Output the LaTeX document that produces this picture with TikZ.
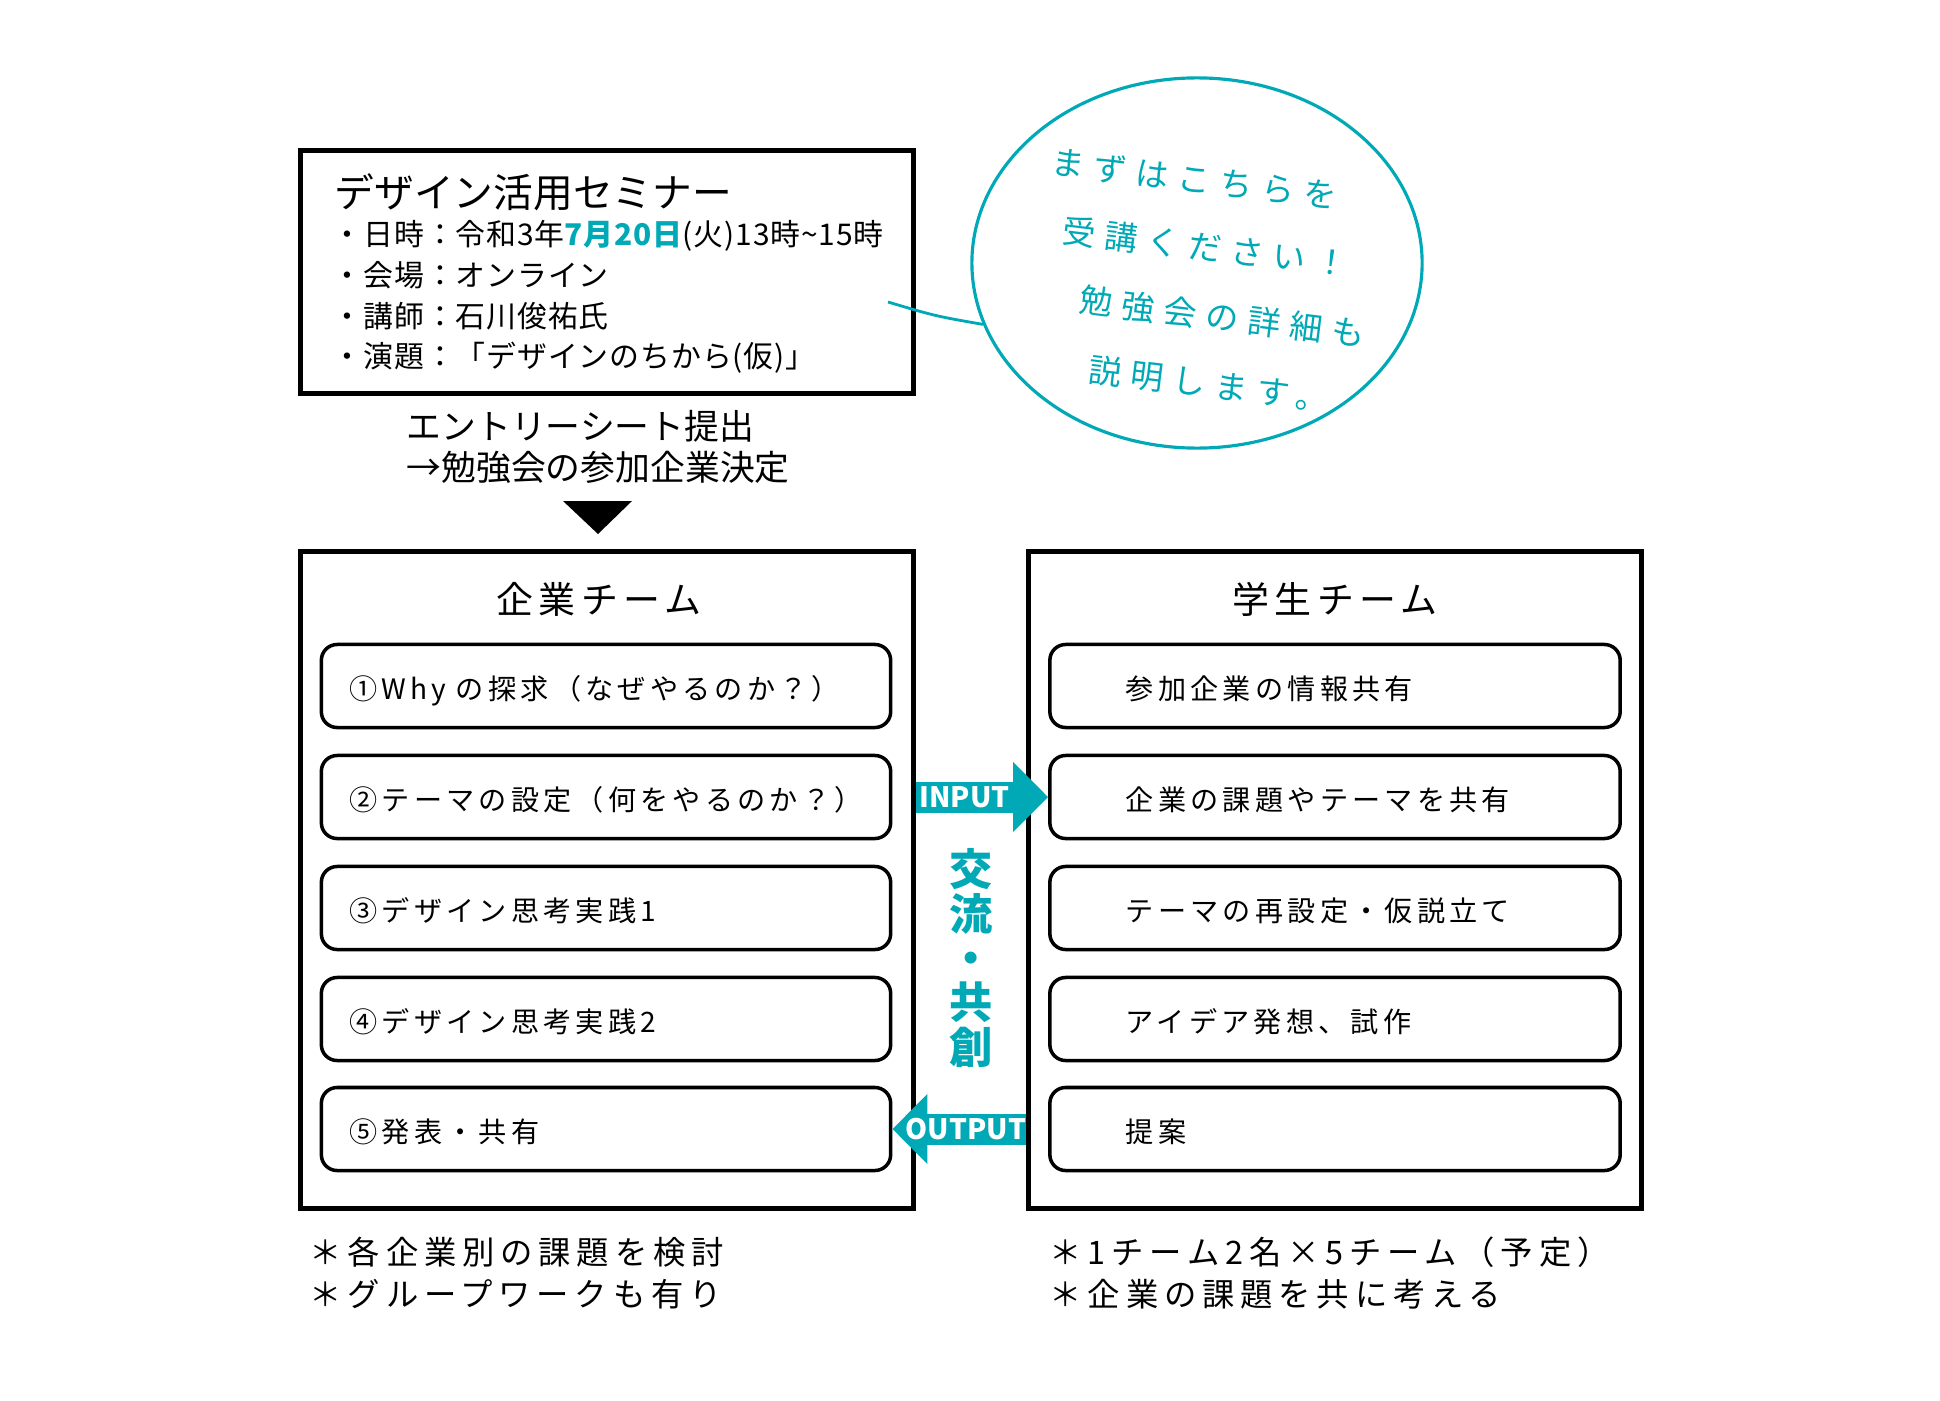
\documentclass[tikz,border=0pt]{standalone}
\usepackage{fontspec}
\setmainfont{Noto Sans CJK JP}
\usetikzlibrary{arrows.meta,shapes.geometric}
\definecolor{brand}{RGB}{0,169,181}
\begin{document}
\begin{tikzpicture}[x=0.01cm,y=-0.01cm]
        \tikzset{
            frame/.style={draw=black,line width=1.4pt,inner sep=0pt},
            stepbox/.style={draw=black,line width=1pt,rounded corners=4.5pt,minimum width=5.69cm,minimum height=0.83cm,align=left,
                text height=0.9em,text depth=0.12em,font=\fontsize{8}{10}\selectfont\addfontfeatures{LetterSpace=15}},
            corpstep/.style={stepbox,inner xsep=0.28cm,text width=5.13cm},
            studstep/.style={stepbox,inner xsep=0.76cm,text width=4.18cm},
            teamtitle/.style={font=\fontsize{10.5}{12}\selectfont\addfontfeatures{LetterSpace=15}},
            plain/.style={anchor=west,align=left,inner xsep=0pt},
            note/.style={plain,font=\fontsize{9.2}{11.7}\selectfont\addfontfeatures{LetterSpace=18}},
            memo/.style={text=brand,rotate=-7,font=\fontsize{9.4}{12}\selectfont\addfontfeatures{LetterSpace=28}},
            flow/.style={draw=brand,line width=0.31cm,-{Triangle[length=0.35cm,width=0.68cm]}},
            flowlabel/.style={text=white,font=\fontsize{8}{8}\selectfont\bfseries},
        }
        \useasboundingbox (0,0) rectangle (1940,1400);

        \node[frame,minimum width=6.12cm,minimum height=2.42cm] (seminar) at (607,272) {};
        \node[plain,font=\fontsize{11.3}{13}\selectfont] (semtitle) at (334,192) {デザイン活用セミナー};
        \node[plain,font=\fontsize{8.5}{11.6}\selectfont\addfontfeatures{LetterSpace=3}] (seminfo) at (332,297)
            {・日時：令和3年\textcolor{brand}{\bfseries 7月20日}(火)13時\textasciitilde15時\\
             ・会場：オンライン\\
             ・講師：石川俊祐氏\\
             ・演題：「デザインのちから(仮)」};

        \node[draw=brand,line width=0.9pt,ellipse,minimum width=4.5cm,minimum height=3.7cm,inner sep=0pt] (bubble) at (1197,263) {};
        \coordinate (tail) at (888,302);
        \draw[brand,line width=0.8pt] (tail) .. controls (935,316) .. (bubble.196);
        \node[memo] (memo1) at (1194,179) {まずはこちらを};
        \node[memo] (memo2) at (1205,247) {受講ください！};
        \node[memo] (memo3) at (1222,317) {勉強会の詳細も};
        \node[memo] (memo4) at (1209,384) {説明します。};

        \node[plain,font=\fontsize{9.9}{11.6}\selectfont] (entry) at (406,447)
            {エントリーシート提出\\→勉強会の参加企業決定};
        \fill (563,501) -- (632,501) -- (598,534) -- cycle;

        \node[frame,minimum width=6.12cm,minimum height=6.57cm] (corp) at (607,880) {};
        \node[frame,minimum width=6.13cm,minimum height=6.57cm] (stud) at (1335,880) {};
        \node[teamtitle] (corptitle) at (599,599) {企業チーム};
        \node[teamtitle] (studtitle) at (1335,599) {学生チーム};

        \node[corpstep] (corp1) at (606,686) {①Why の探求（なぜやるのか？）};
        \node[corpstep] (corp2) at (606,797) {②テーマの設定（何をやるのか？）};
        \node[corpstep] (corp3) at (606,908) {③デザイン思考実践1};
        \node[corpstep] (corp4) at (606,1019) {④デザイン思考実践2};
        \node[corpstep] (corp5) at (606,1129) {⑤発表・共有};

        \node[studstep] (stud1) at (1335,686) {参加企業の情報共有};
        \node[studstep] (stud2) at (1335,797) {企業の課題やテーマを共有};
        \node[studstep] (stud3) at (1335,908) {テーマの再設定・仮説立て};
        \node[studstep] (stud4) at (1335,1019) {アイデア発想、試作};
        \node[studstep] (stud5) at (1335,1129) {提案};

        \draw[flow] (corp.east |- stud2) -- node[flowlabel,pos=0.37] {INPUT} (stud2.west);
        \draw[flow] (stud.west |- corp5) -- node[flowlabel,pos=0.45] {OUTPUT} (corp5.east);
        \node[text=brand,align=center,font=\fontsize{12.3}{12.6}\selectfont\bfseries] (kyoso) at (971,958) {交\\流\\・\\共\\創};

        \node[note] (corpnote) at (309,1273) {＊各企業別の課題を検討\\＊グループワークも有り};
        \node[note] (studnote) at (1049,1273) {＊1チーム2名×5チーム（予定）\\＊企業の課題を共に考える};
    \end{tikzpicture}
\end{document}
